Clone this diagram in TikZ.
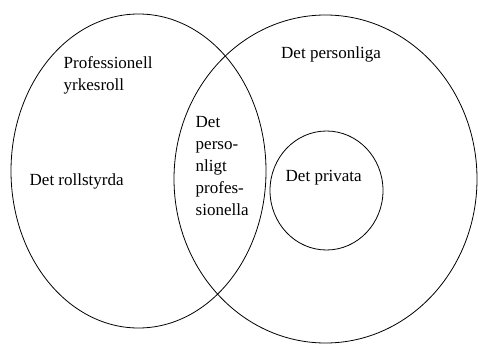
\documentclass[tikz,border=0pt]{standalone}
\usepackage{fontspec}
\setmainfont{Liberation Serif}
\usepackage{tikz}

\begin{document}
\begin{tikzpicture}[x=1pt, y=-1pt, label/.style={anchor=base west, inner sep=0pt, align=left, font=\fontsize{17}{22}\selectfont}]
		\useasboundingbox (0,0) rectangle (478,345);
		\draw[line width=0.8pt] (138.5,171) ellipse [x radius=127.5pt, y radius=157pt];
		\draw[line width=0.8pt] (325.5,179) ellipse [x radius=151.5pt, y radius=164pt];
		\draw[line width=0.8pt] (326.5,190.5) ellipse [x radius=56.5pt, y radius=59.5pt];
		\node[label] (yrke) at (63.5,90) {Professionell\\yrkesroll};
		\node[label] (roll) at (29.5,185) {Det rollstyrda};
		\node[label] (pers) at (281,58) {Det personliga};
		\node[label] (prof) at (195.5,215) {Det\\perso-\\nligt\\profes-\\sionella};
		\node[label] (priv) at (285.5,181.5) {Det privata};
	\end{tikzpicture}
\end{document}
